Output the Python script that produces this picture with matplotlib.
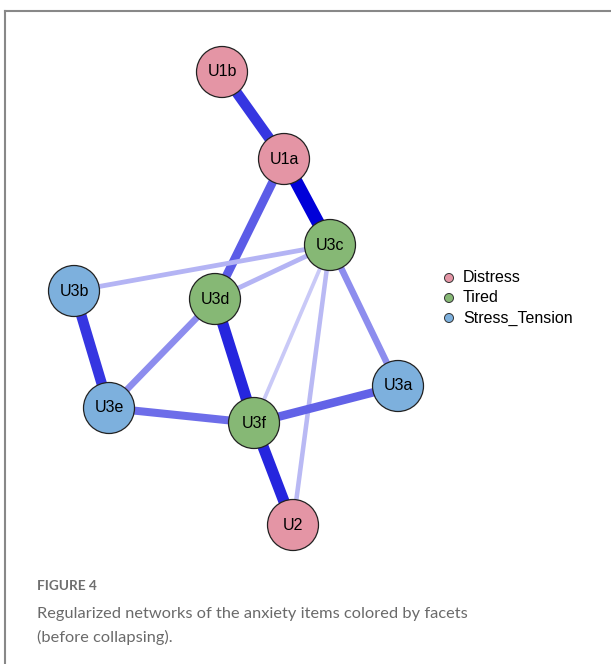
import matplotlib
matplotlib.use("Agg")
import matplotlib.pyplot as plt
from matplotlib.patches import Circle
from matplotlib.lines import Line2D

# Node layout (pixel-like layout coordinates)
nodes = ["U1b", "U1a", "U3c", "U3b", "U3d", "U3a", "U3e", "U3f", "U2"]
node_x = [222, 284, 330, 74, 215, 398, 109, 254, 293]
node_y = [72, 159, 245, 291, 299, 386, 408, 423, 525]
node_group = ["Distress", "Distress", "Tired", "Stress_Tension", "Tired",
              "Stress_Tension", "Stress_Tension", "Tired", "Distress"]

groups = ["Distress", "Tired", "Stress_Tension"]
group_colors = ["#E495A5", "#86B875", "#7DB0DD"]

# Edges (partial correlations, estimated)
edge_from = ["U1b", "U1a", "U1a", "U3c", "U3c", "U3c", "U3c", "U3c", "U3b", "U3d", "U3d", "U3e", "U3f", "U3f"]
edge_to   = ["U1a", "U3c", "U3d", "U3b", "U3d", "U3f", "U2",  "U3a", "U3e", "U3e", "U3f", "U3f", "U3a", "U2"]
edge_w    = [0.35, 0.45, 0.28, 0.12, 0.12, 0.08, 0.11, 0.19, 0.35, 0.19, 0.38, 0.25, 0.27, 0.38]

fig = plt.figure(figsize=(6.11, 6.64), dpi=100)
ax = fig.add_axes([0, 0, 1, 1])
ax.set_xlim(0, 611)
ax.set_ylim(664, 0)
ax.set_aspect("equal")
ax.axis("off")

# frame
ax.add_line(Line2D([4.5, 4.5], [10.5, 664], color="#888888", lw=1.5))
ax.add_line(Line2D([4.5, 611], [10.5, 10.5], color="#888888", lw=1.5))

pos = {n: (x, y) for n, x, y in zip(nodes, node_x, node_y)}
maxw = max(edge_w)

def edge_color(frac):
    base = (0.0, 0.0, 0.85)
    a = min(1.0, 0.04 + 0.96 * frac)
    return tuple(1 - a * (1 - c) for c in base)

for a, b, w in zip(edge_from, edge_to, edge_w):
    frac = w / maxw
    x0, y0 = pos[a]
    x1, y1 = pos[b]
    px = 1.8 + 11.2 * frac
    ax.plot([x0, x1], [y0, y1], color=edge_color(frac), lw=px * 0.72,
            solid_capstyle="butt", zorder=1)

col = dict(zip(groups, group_colors))
for n, x, y, g in zip(nodes, node_x, node_y, node_group):
    ax.add_patch(Circle((x, y), 25.5, facecolor=col[g], edgecolor="#222222",
                        lw=0.9, zorder=3))
    ax.text(x, y, n, ha="center", va="center", fontsize=11.5,
            family="Liberation Sans", zorder=4)

# legend
for i, (g, c) in enumerate(zip(groups, group_colors)):
    yy = 278 + 20 * i
    ax.add_patch(Circle((449, yy), 4.5, facecolor=c, edgecolor="#333333",
                        lw=0.7, zorder=3))
    ax.text(463, yy, g, ha="left", va="center", fontsize=11.5,
            family="Liberation Sans")

# caption
ax.text(37, 590, "FIGURE 4", ha="left", va="baseline", fontsize=9.8,
        family="Lato", color="#6f6f6f", fontweight="bold")
ax.text(37, 618, "Regularized networks of the anxiety items colored by facets",
        ha="left", va="baseline", fontsize=11.8, family="Lato",
        color="#6a6a6a", fontweight="normal")
ax.text(37, 642, "(before collapsing).", ha="left", va="baseline",
        fontsize=11.8, family="Lato", color="#6a6a6a", fontweight="normal")

fig.savefig("out.png", dpi=100)
